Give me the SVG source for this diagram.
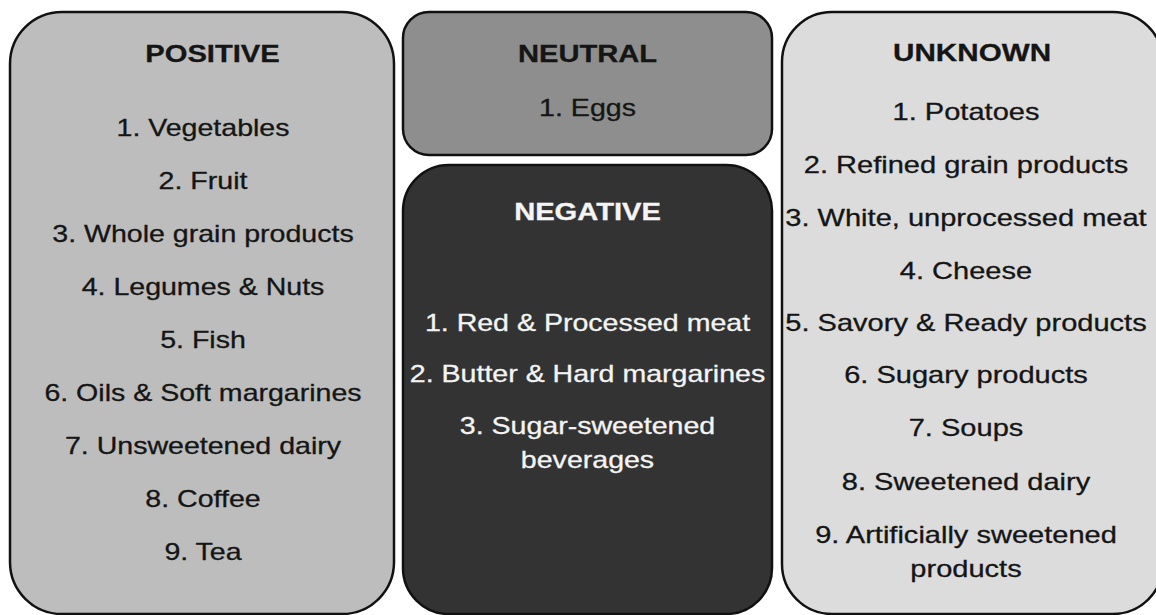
<svg xmlns="http://www.w3.org/2000/svg" width="1156" height="615" viewBox="0 0 1156 615">
<style>
.box{stroke:#111;stroke-width:2.5}
text{font-family:"Liberation Sans",Arial,sans-serif;font-size:24px;text-anchor:middle;fill:#151515;stroke:#151515;stroke-width:0.3}
.t{font-weight:bold;font-size:24.5px}
.w{fill:#f4f4f4;stroke:#f4f4f4}
</style>
<rect width="1156" height="615" fill="#ffffff"/>
<g id="positive">
<rect class="box" x="10" y="12" width="384" height="602" rx="52" ry="52" fill="#bdbdbd"/>
<g transform="translate(203,0) scale(1.19,1)">
<text class="t" x="8" y="62">POSITIVE</text>
<text x="0" y="136">1. Vegetables</text>
<text x="0" y="189">2. Fruit</text>
<text x="0" y="242">3. Whole grain products</text>
<text x="0" y="295">4. Legumes &amp; Nuts</text>
<text x="0" y="348">5. Fish</text>
<text x="0" y="401">6. Oils &amp; Soft margarines</text>
<text x="0" y="454">7. Unsweetened dairy</text>
<text x="0" y="507">8. Coffee</text>
<text x="0" y="560">9. Tea</text>
</g>
</g>
<g id="neutral">
<rect class="box" x="403" y="12" width="369" height="143" rx="26" ry="26" fill="#8e8e8e"/>
<g transform="translate(587.5,0) scale(1.19,1)">
<text class="t" x="0" y="62">NEUTRAL</text>
<text x="0" y="116">1. Eggs</text>
</g>
</g>
<g id="negative">
<rect class="box" x="403" y="165" width="369" height="449" rx="46" ry="46" fill="#333333"/>
<g transform="translate(587.5,0) scale(1.19,1)">
<text class="t w" x="0" y="220">NEGATIVE</text>
<text class="w" x="0" y="331">1. Red &amp; Processed meat</text>
<text class="w" x="0" y="382">2. Butter &amp; Hard margarines</text>
<text class="w" x="0" y="434">3. Sugar-sweetened</text>
<text class="w" x="0" y="468">beverages</text>
</g>
</g>
<g id="unknown">
<rect class="box" x="782" y="12" width="381" height="602" rx="50" ry="50" fill="#dcdcdc"/>
<g transform="translate(966,0) scale(1.21,1)">
<text class="t" x="5" y="61">UNKNOWN</text>
<text x="0" y="120">1. Potatoes</text>
<text x="0" y="173">2. Refined grain products</text>
<text x="0" y="226">3. White, unprocessed meat</text>
<text x="0" y="279">4. Cheese</text>
<text x="0" y="331">5. Savory &amp; Ready products</text>
<text x="0" y="383">6. Sugary products</text>
<text x="0" y="436">7. Soups</text>
<text x="0" y="490">8. Sweetened dairy</text>
<text x="0" y="543">9. Artificially sweetened</text>
<text x="0" y="577">products</text>
</g>
</g>
<g id="connectors"></g>
</svg>
